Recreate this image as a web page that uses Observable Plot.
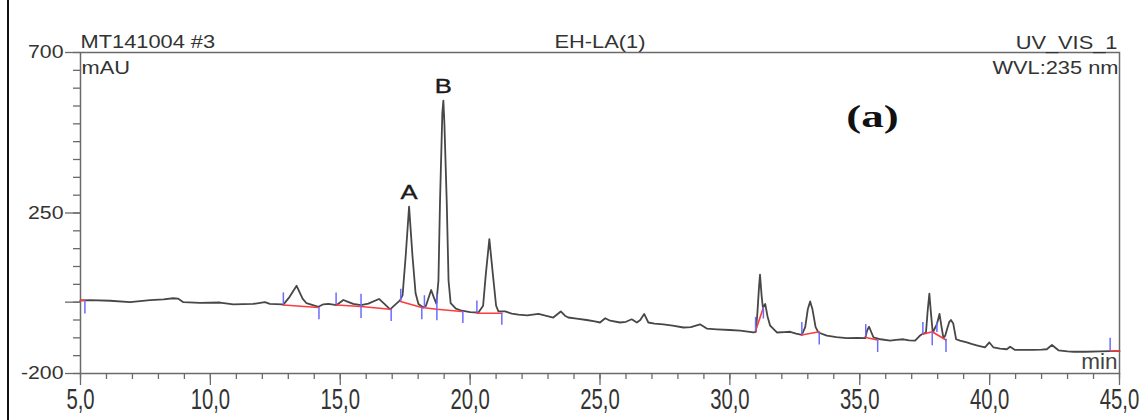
<!DOCTYPE html>
<html><head><meta charset="utf-8">
<script src="https://cdn.jsdelivr.net/npm/d3@7"></script>
<script src="https://cdn.jsdelivr.net/npm/@observablehq/plot@0.6"></script>
<style>
html,body{margin:0;padding:0;background:#fff;}
#wrap{position:relative;width:1145px;height:420px;overflow:hidden;}
#edge{position:absolute;left:7px;top:0;width:2px;height:420px;background:#111;z-index:2;}
</style></head><body><div id="wrap"></div>
<script>
// chromatogram trace (retention time in min, absorbance in mAU)
const times = [5.00,5.37,6.14,6.91,7.68,8.2,8.57,8.75,8.96,9.6,10.37,10.88,11.65,12.1,12.29,12.75,12.81,13.05,13.32,13.55,13.7,14.16,14.35,14.54,14.86,15.12,15.3,15.5,15.8,16.08,16.49,16.7,16.92,17.15,17.3,17.4,17.52,17.65,17.78,17.9,18.01,18.2,18.3,18.5,18.62,18.7,18.78,18.84,18.93,18.97,19.01,19.1,19.17,19.25,19.45,19.68,20.0,20.32,20.5,20.6,20.74,20.88,21.0,21.09,21.35,21.6,21.86,22.2,22.63,22.9,23.2,23.49,23.65,23.78,24.1,24.49,24.8,25.0,25.2,25.39,25.77,26.0,26.22,26.42,26.55,26.7,26.86,27.1,27.44,27.8,28.21,28.5,28.85,29.11,29.5,30.0,30.4,30.91,31.0,31.06,31.12,31.16,31.22,31.27,31.36,31.45,31.55,31.81,32.1,32.32,32.55,32.77,32.9,33.0,33.09,33.18,33.3,33.41,33.73,34.1,34.5,34.9,35.21,35.28,35.36,35.45,35.53,35.8,36.17,36.4,36.68,36.9,37.13,37.3,37.39,37.55,37.62,37.68,37.74,37.81,37.97,38.07,38.15,38.22,38.29,38.38,38.45,38.51,38.6,38.71,38.86,39.12,39.3,39.5,39.82,39.99,40.15,40.4,40.66,40.79,40.98,41.3,41.69,42.0,42.2,42.4,42.65,43.0,43.23,43.7,44.25,44.64,45.0];
const values = [5,6,4,0,6,8,11,10,0,-2,-1,-6,-5,0,-5,-6,-7,15,46,10,-3,-13,-6,-5,-8,6,1,-5,-8,-4,9,-5,-20,-5,5,20,130,268,130,25,-5,-15,-10,34,10,-4,60,280,530,565,500,280,60,-3,-18,-24,-28,-29,-10,75,177,75,-10,-26,-26,-32,-35,-37,-33,-38,-43,-26,-38,-43,-46,-50,-54,-57,-45,-52,-57,-55,-48,-57,-50,-33,-57,-60,-62,-66,-71,-70,-62,-74,-76,-78,-80,-85,-83,-30,40,77,20,-15,-5,-40,-66,-85,-84,-83,-88,-92,-70,-20,2,-20,-70,-85,-94,-98,-101,-100,-101,-80,-69,-85,-99,-104,-108,-106,-104,-107,-108,-95,-90,-85,-20,24,-30,-85,-62,-33,-70,-100,-94,-71,-55,-50,-60,-104,-108,-113,-117,-121,-127,-113,-127,-130,-132,-125,-134,-134,-134,-133,-132,-120,-135,-138,-139,-139,-138,-137,-137];

// integration baselines (red)
const baseGroup = [0,0, 1,1, 2,2,2, 3,3,3,3, 4,4, 5,5, 6,6, 7,7, 8,8,8, 9,9];
const baseT = [5.0,5.15, 12.81,14.16, 14.86,15.8,16.92, 17.32,18.14,18.72,19.68, 20.26,21.22, 30.99,31.29, 32.77,33.44, 35.23,35.69, 37.43,37.79,38.32, 44.64,45.0];
const baseV = [5,5, -8,-15, -8,-12,-20, 2,-15,-20,-26, -31,-31, -80,-15, -92,-83, -99,-106, -90,-83,-106, -137,-137];

// peak delimiter marks (blue)
const delimT  = [5.17,12.81,14.18,14.84,15.8,16.96,17.33,18.14,18.24,18.72,19.72,20.26,21.22,30.99,31.29,32.77,33.44,35.23,35.69,37.43,37.79,37.97,38.32,44.64];
const delimV1 = [4,-8,-15,-8,-46,-20,2,-15,-16,-52,-26,-31,-31,-80,-15,-92,-85,-97,-106,-90,-85,-85,-104,-137];
const delimV2 = [-33,26,-49,26,22,-54,36,-49,18,22,-60,3,-65,-43,-47,-57,-120,-63,-141,-57,-122,-57,-141,-101];

// peak labels
const peakNames = ["A","B"];
const peakTimes = [17.65,18.97];
const peakHeights = [268,565];

// axis ticks
const yMajor = [-200,0,250,700];
const yLabelled = [-200,250,700];
const yMinor = d3.range(-200,701,50);
const xMajor = d3.range(5,46,5);
const xMinor = d3.range(5,46,1);

// header texts
const hdrLeft = ["MT141004 #3"];
const hdrCenter = ["EH-LA(1)"];
const hdrRight = ["UV_VIS_1"];
const hdrWave = ["WVL:235 nm"];
const yUnit = ["mAU"];
const xUnit = ["min"];
const panelTag = ["(a)"];

const trace = times.map((t,i)=>({t, v: values[i]}));
const base = baseT.map((t,i)=>({t, v: baseV[i], g: baseGroup[i]}));
const delims = delimT.map((t,i)=>({t, v1: delimV1[i], v2: delimV2[i]}));
const peaks = peakNames.map((n,i)=>({n, t: peakTimes[i], v: peakHeights[i]}));

const axisColor = "#6a6a6a";
const txt = "#333";
const xFmt = d => d.toFixed(1).replace(".", ",");

const svg = Plot.plot({
  width: 1145, height: 420,
  marginLeft: 80, marginRight: 26, marginTop: 52, marginBottom: 47,
  style: {fontFamily: "'Liberation Sans', Arial, sans-serif", background: "#fff", color: txt},
  x: {domain: [5,45]},
  y: {domain: [-200,700]},
  marks: [
    Plot.frame({stroke: axisColor, strokeWidth: 1.5}),
    Plot.axisY(yMinor, {tickSize: 7, fill: "none", stroke: axisColor, strokeWidth: 1.3, label: null}),
    Plot.axisY(yMajor, {tickSize: 15, fill: "none", stroke: axisColor, strokeWidth: 1.3, label: null}),
    Plot.axisX(xMinor, {tickSize: 6, fill: "none", stroke: axisColor, strokeWidth: 1.3, label: null}),
    Plot.axisX(xMajor, {tickSize: 12, fill: "none", stroke: axisColor, strokeWidth: 1.3, label: null}),
    Plot.text(yLabelled, {y: d=>d, text: d=>String(d), frameAnchor: "left", textAnchor: "end", dx: -17, fontSize: 18.5, fill: txt}),
    Plot.text(xMajor, {x: d=>d, text: xFmt, frameAnchor: "bottom", lineAnchor: "top", dy: 15, fontSize: 29, fill: txt}),
    Plot.line(trace, {x: "t", y: "v", stroke: "#474747", strokeWidth: 1.8}),
    Plot.line(base, {x: "t", y: "v", z: "g", stroke: "#ff3b3b", strokeWidth: 1.6}),
    Plot.ruleX(delims, {x: "t", y1: "v1", y2: "v2", stroke: "#6b6bff", strokeWidth: 1.5}),
    Plot.text(peaks, {x: "t", y: "v", text: "n", dy: -8, lineAnchor: "bottom", fontSize: 21, fill: "#1a1a1a", stroke: "#1a1a1a", strokeWidth: 0.4}),
    Plot.text(hdrLeft, {frameAnchor: "top-left", textAnchor: "start", lineAnchor: "bottom", dy: -5, fontSize: 18.5, fill: txt}),
    Plot.text(hdrCenter, {frameAnchor: "top", textAnchor: "middle", lineAnchor: "bottom", dy: -5, fontSize: 18.5, fill: txt}),
    Plot.text(hdrRight, {frameAnchor: "top-right", textAnchor: "end", lineAnchor: "bottom", dy: -4, dx: -2, fontSize: 18.5, fill: txt}),
    Plot.text(hdrWave, {frameAnchor: "top-right", textAnchor: "end", lineAnchor: "bottom", dy: 21, dx: -1, fontSize: 18.5, fill: txt}),
    Plot.text(yUnit, {frameAnchor: "top-left", textAnchor: "start", lineAnchor: "bottom", dy: 21, dx: 1, fontSize: 18.5, fill: txt}),
    Plot.text(xUnit, {frameAnchor: "bottom-right", textAnchor: "end", lineAnchor: "bottom", dy: -5, dx: -2, fontSize: 22.5, fill: "#444"}),
    Plot.text(panelTag, {frameAnchor: "top-right", textAnchor: "middle", lineAnchor: "bottom", dx: -247, dy: 74, fontSize: 31, fontWeight: "bold", fontFamily: "'Liberation Serif', 'Times New Roman', serif", fill: "#111"})
  ]
});

// horizontal/vertical stretch of texts (the reference's glyphs are distorted)
const stretchOf = new Map();
[...hdrLeft, ...hdrCenter, ...hdrRight, ...hdrWave, ...yUnit].forEach(s => stretchOf.set(s, [1.18, 1]));
yLabelled.forEach(v => stretchOf.set(String(v), [1.15, 1]));
xMajor.forEach(v => stretchOf.set(xFmt(v), [0.7, 1]));
peakNames.forEach(s => stretchOf.set(s, [1.22, 1]));
panelTag.forEach(s => stretchOf.set(s, [1.45, 1]));

svg.querySelectorAll("text").forEach(t => {
  const k = stretchOf.get(t.textContent.trim());
  if (!k) return;
  const [sx, sy] = k;
  const tr = t.getAttribute("transform") || "";
  const x = parseFloat(t.getAttribute("x")) || 0;
  const yAttr = t.getAttribute("y") || "";
  const y = /em$/.test(yAttr) ? 0 : (parseFloat(yAttr) || 0);
  t.setAttribute("transform", `${tr} translate(${x},${y}) scale(${sx},${sy}) translate(${-x},${-y})`);
});

const wrap = document.getElementById("wrap");
wrap.appendChild(svg);
const edge = document.createElement("div");
edge.id = "edge";
wrap.appendChild(edge);
</script>
</body></html>
